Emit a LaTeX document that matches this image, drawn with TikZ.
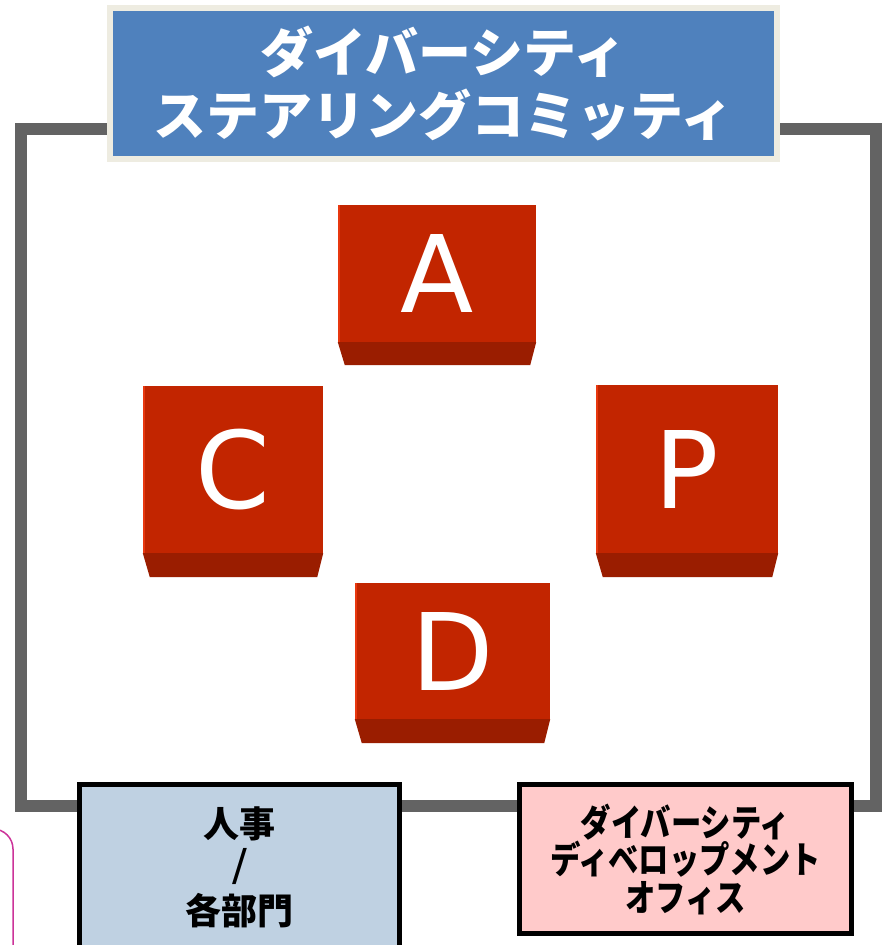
\documentclass[tikz,border=0pt]{standalone}
\usepackage{fontspec}
\newfontfamily\cjk{Noto Sans CJK JP}
\newfontfamily\cjkn{Noto Sans CJK JP}[FakeStretch=0.82]
\newfontfamily\lat{DejaVu Sans}
\definecolor{framegray}{HTML}{636363}
\definecolor{titleblue}{HTML}{4F81BD}
\definecolor{cream}{HTML}{EEECE1}
\definecolor{facered}{HTML}{C22500}
\definecolor{bevelred}{HTML}{9A1D00}
\definecolor{edgered}{HTML}{E8380F}
\definecolor{hrblue}{HTML}{BFD1E2}
\definecolor{officepink}{HTML}{FFCACA}
\definecolor{pinkline}{HTML}{CC3399}
\tikzset{
  frameline/.style={draw=framegray,line width=12pt},
  titlebox/.style={fill=titleblue,draw=cream,line width=6pt,text=white,align=center,
    font=\cjk\bfseries\fontsize{53}{63}\selectfont,inner sep=0pt},
  blockface/.style={fill=facered,inner sep=0pt,text=white,font=\lat\fontsize{107}{107}\selectfont},
  bevel/.style={fill=bevelred},
  leftedge/.style={fill=edgered},
  hrbox/.style={fill=hrblue,draw=black,line width=5pt,align=center,inner sep=0pt,
    font=\cjk\bfseries\fontsize{36}{43.5}\selectfont},
  officebox/.style={fill=officepink,draw=black,line width=5pt,align=center,inner sep=0pt,
    font=\cjkn\bfseries\fontsize{37}{37.5}\selectfont},
  pinkedge/.style={draw=pinkline,line width=1.5pt}
}
\begin{document}
\begin{tikzpicture}[x=1pt,y=-1pt]
\useasboundingbox (0,0) rectangle (885,945);
\clip (0,0) rectangle (885,945);
\fill[white] (0,0) rectangle (885,945);
% outer frame
\draw[frameline] (21,129) rectangle (876,806);
% title
\node[titlebox,minimum width=667pt,minimum height=151pt] (title) at (443.5,83.5)
  {ダイバーシティ\\ステアリングコミッティ};
% blocks
\node[blockface,minimum width=198pt,minimum height=137pt] (A) at (437,273.5) {A};
\node[blockface,minimum width=182pt,minimum height=168pt] (P) at (687,469) {P};
\node[blockface,minimum width=180pt,minimum height=167pt] (C) at (233,469.5) {C};
\node[blockface,minimum width=195pt,minimum height=136pt] (D) at (452.5,651) {D};
\foreach \b/\h in {A/23,P/24,C/24,D/24}{
  \fill[bevel] (\b.south west) -- (\b.south east) -- ++(-6,\h) -- ([xshift=7pt,yshift=-\h pt]\b.south west) -- cycle;
  \fill[leftedge] (\b.south west) rectangle ([xshift=2pt]\b.north west);
}
% bottom boxes
\node[hrbox,minimum width=320pt,minimum height=165pt] (hr) at (239.5,867)
  {人事\\{\lat\mdseries\fontsize{44}{43.5}\selectfont /}\\各部門};
\node[officebox,minimum width=332pt,minimum height=149pt] (office) at (685.5,859)
  {ダイバーシティ\\ディベロップメント\\オフィス};
% partial pink rounded box at left edge
\draw[pinkedge] (-7,829) .. controls (4,829) and (13,838) .. (13,849) -- (13,950);
\end{tikzpicture}
\end{document}
